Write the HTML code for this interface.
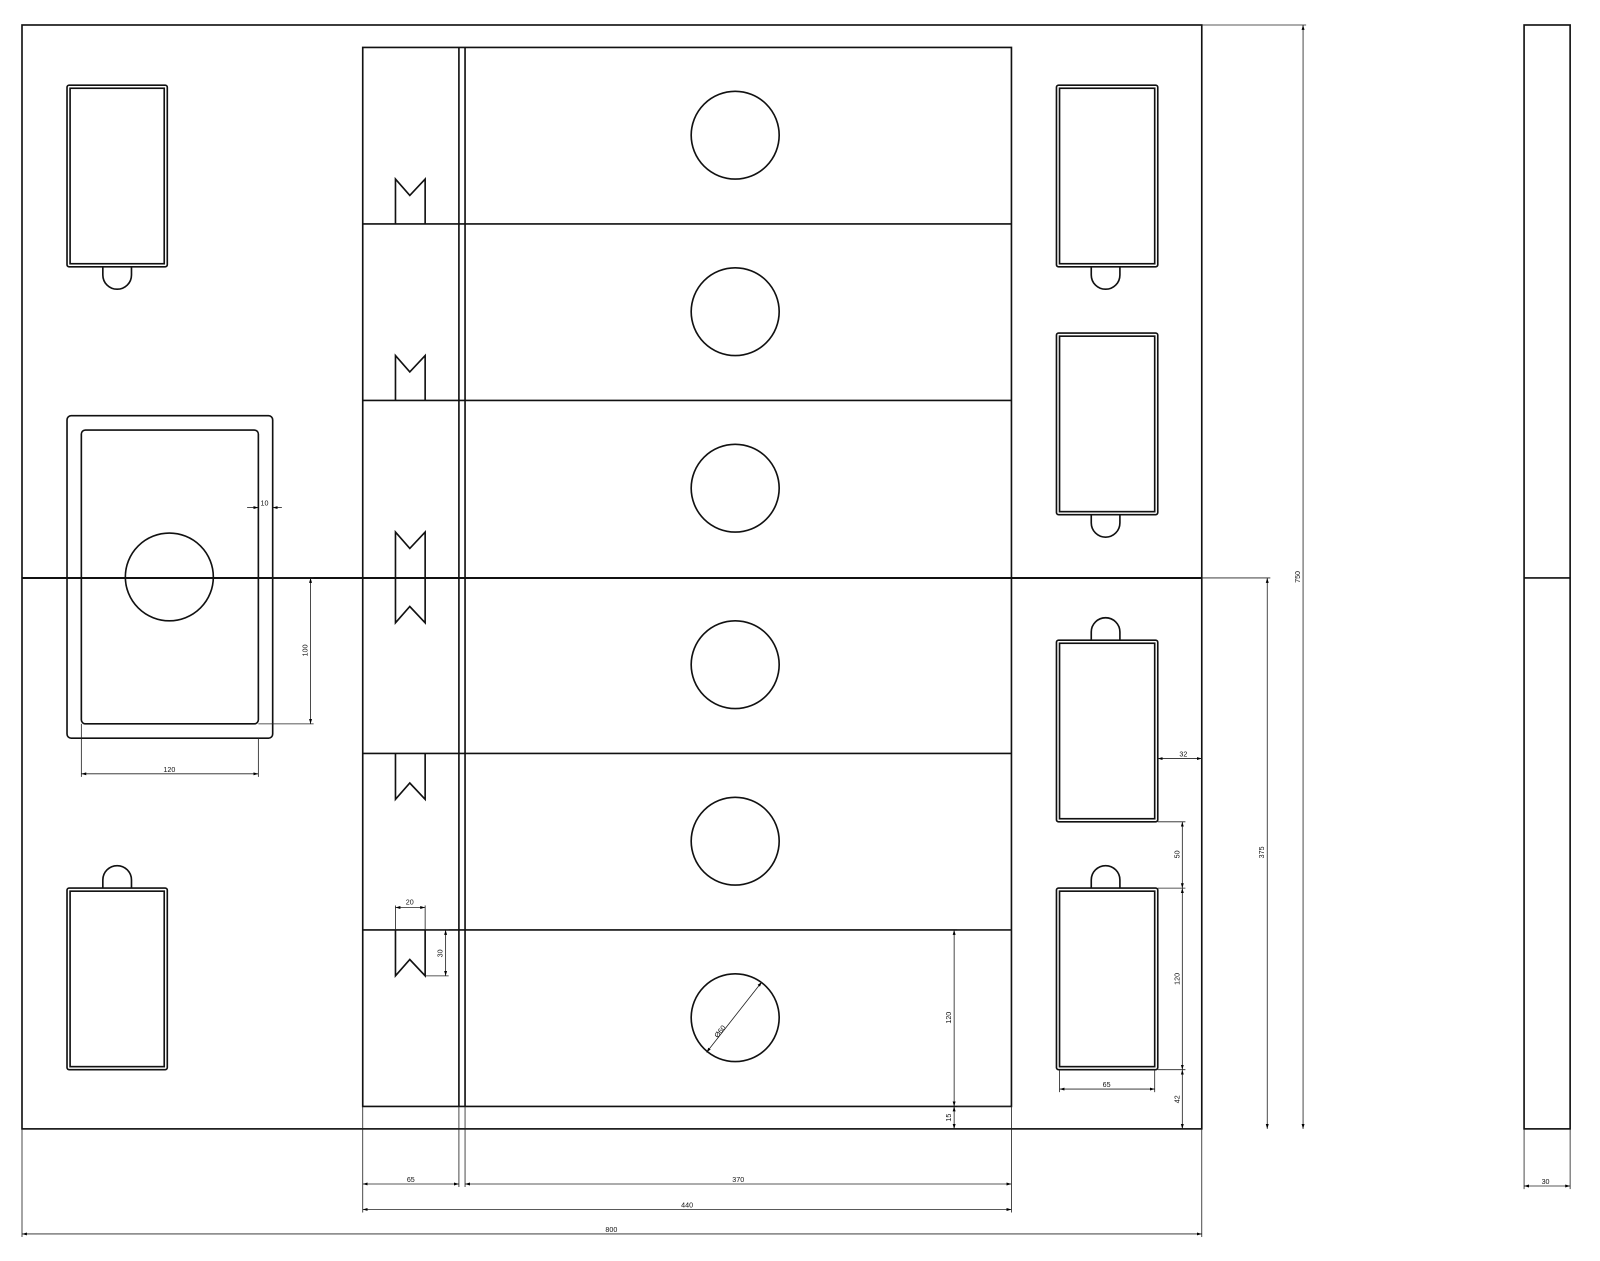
<!DOCTYPE html>
<html><head><meta charset="utf-8"><style>html,body{margin:0;padding:0;background:#fff;overflow:hidden}svg{display:block}</style></head><body>
<svg width="1600" height="1261" viewBox="1.5 0.5 1563.7 1236" preserveAspectRatio="none" xmlns="http://www.w3.org/2000/svg">
<defs>
<marker id="a" viewBox="0 0 10 10" refX="10" refY="5" markerWidth="6" markerHeight="6" orient="auto-start-reverse"><path d="M0,2 L10,5 L0,8 Z" fill="#000"/></marker>
</defs>
<g fill="none" stroke="#111" stroke-width="1.6">
<rect x="23" y="25" width="1153" height="1082"/>
<line x1="23" y1="567" x2="1176" y2="567" stroke-width="2"/>
<rect x="1491" y="25" width="45" height="1082"/>
<line x1="1491" y1="567" x2="1536" y2="567"/>
<rect x="356" y="47" width="634" height="1038"/>
<line x1="450" y1="47" x2="450" y2="1085"/>
<line x1="456" y1="47" x2="456" y2="1085"/>
<line x1="356" y1="220" x2="990" y2="220"/><line x1="356" y1="393" x2="990" y2="393"/>
<line x1="356" y1="739" x2="990" y2="739"/><line x1="356" y1="912" x2="990" y2="912"/>
<circle cx="720" cy="133" r="43"/><circle cx="720" cy="306" r="43"/><circle cx="720" cy="479" r="43"/>
<circle cx="720" cy="652" r="43"/><circle cx="720" cy="825" r="43"/><circle cx="720" cy="998" r="43"/>
<path d="M388,220 L388,176 L402,192 L417,176 L417,220"/>
<path d="M388,393 L388,349 L402,365 L417,349 L417,393"/>
<path d="M388,522 L402,538 L417,522 L417,611 L402,595 L388,611 Z"/>
<path d="M388,739 L388,784 L402,768 L417,784 L417,739"/>
<path d="M388,912 L388,957 L402,941 L417,957 L417,912"/>
<rect x="67" y="408" width="201" height="316" rx="4"/>
<rect x="81" y="422" width="173" height="288" rx="4"/>
<circle cx="167" cy="566" r="43"/>
<g>
<rect x="67" y="84" width="98" height="178" rx="2"/><rect x="70" y="87" width="92" height="172"/>
<path d="M102,262 L102,270 A14,14 0 0 0 130,270 L130,262"/>
<rect x="67" y="871" width="98" height="178" rx="2"/><rect x="70" y="874" width="92" height="172"/>
<path d="M102,871 L102,863 A14,14 0 0 1 130,863 L130,871"/>
<rect x="1034" y="84" width="99" height="178" rx="2"/><rect x="1037" y="87" width="93" height="172"/>
<path d="M1068,262 L1068,270 A14,14 0 0 0 1096,270 L1096,262"/>
<rect x="1034" y="327" width="99" height="178" rx="2"/><rect x="1037" y="330" width="93" height="172"/>
<path d="M1068,505 L1068,513 A14,14 0 0 0 1096,513 L1096,505"/>
<rect x="1034" y="628" width="99" height="178" rx="2"/><rect x="1037" y="631" width="93" height="172"/>
<path d="M1068,628 L1068,620 A14,14 0 0 1 1096,620 L1096,628"/>
<rect x="1034" y="871" width="99" height="178" rx="2"/><rect x="1037" y="874" width="93" height="172"/>
<path d="M1068,871 L1068,863 A14,14 0 0 1 1096,863 L1096,871"/>
</g>
</g>
<g fill="none" stroke="#222" stroke-width="0.8">
<line x1="254" y1="710" x2="308" y2="710"/><line x1="267" y1="567" x2="308" y2="567"/>
<line x1="81" y1="710" x2="81" y2="762"/><line x1="254" y1="724" x2="254" y2="762"/>
<line x1="1133" y1="806" x2="1160" y2="806"/><line x1="1133" y1="871" x2="1160" y2="871"/><line x1="1133" y1="1049" x2="1160" y2="1049"/>
<line x1="1176" y1="567" x2="1243" y2="567"/><line x1="1176" y1="25" x2="1278" y2="25"/>
<line x1="1037" y1="1049" x2="1037" y2="1071"/><line x1="1130" y1="1049" x2="1130" y2="1071"/>
<line x1="990" y1="912" x2="937" y2="912"/><line x1="990" y1="1085" x2="937" y2="1085"/>
<line x1="388" y1="912" x2="388" y2="888"/><line x1="417" y1="912" x2="417" y2="888"/>
<line x1="417" y1="957" x2="440" y2="957"/><line x1="417" y1="912" x2="440" y2="912"/>
<line x1="356" y1="1085" x2="356" y2="1189"/><line x1="450" y1="1085" x2="450" y2="1164"/><line x1="456" y1="1085" x2="456" y2="1164"/><line x1="990" y1="1085" x2="990" y2="1189"/>
<line x1="23" y1="1107" x2="23" y2="1213"/><line x1="1176" y1="1107" x2="1176" y2="1213"/>
<line x1="1491" y1="1107" x2="1491" y2="1166"/><line x1="1536" y1="1107" x2="1536" y2="1166"/>
<g marker-start="url(#a)" marker-end="url(#a)">
<line x1="243" y1="498" x2="254" y2="498" marker-start="none"/><line x1="277" y1="498" x2="268" y2="498" marker-start="none"/>
<line x1="305" y1="567" x2="305" y2="710"/>
<line x1="81" y1="759" x2="254" y2="759"/>
<line x1="1133" y1="744" x2="1176" y2="744"/>
<line x1="1157" y1="806" x2="1157" y2="871"/><line x1="1157" y1="871" x2="1157" y2="1049"/><line x1="1157" y1="1049" x2="1157" y2="1107"/>
<line x1="1240" y1="567" x2="1240" y2="1107"/><line x1="1275" y1="25" x2="1275" y2="1107"/>
<line x1="1037" y1="1068" x2="1130" y2="1068"/>
<line x1="934" y1="912" x2="934" y2="1085"/><line x1="934" y1="1085" x2="934" y2="1107"/>
<line x1="388" y1="890" x2="417" y2="890"/><line x1="437" y1="912" x2="437" y2="957"/>
<line x1="356" y1="1161" x2="450" y2="1161"/><line x1="456" y1="1161" x2="990" y2="1161"/>
<line x1="356" y1="1186" x2="990" y2="1186"/><line x1="23" y1="1210" x2="1176" y2="1210"/>
<line x1="1491" y1="1163" x2="1536" y2="1163"/>
<line x1="692" y1="1032" x2="746" y2="963"/>
</g>
</g>
<g font-family="Liberation Sans, sans-serif" font-size="7" fill="#111" text-anchor="middle">
<text x="260" y="496">10</text>
<text x="167" y="757">120</text>
<text x="1158" y="742">32</text>
<text x="1083" y="1066">65</text>
<text x="402" y="887">20</text>
<text x="403" y="1159">65</text>
<text x="723" y="1159">370</text>
<text x="673" y="1184">440</text>
<text x="599" y="1208">800</text>
<text x="1512" y="1161">30</text>
<text transform="translate(302,638) rotate(-90)">100</text>
<text transform="translate(1154,838) rotate(-90)">50</text>
<text transform="translate(1154,960) rotate(-90)">120</text>
<text transform="translate(1154,1078) rotate(-90)">42</text>
<text transform="translate(1237,836) rotate(-90)">375</text>
<text transform="translate(1272,566) rotate(-90)">750</text>
<text transform="translate(931,998) rotate(-90)">120</text>
<text transform="translate(931,1096) rotate(-90)">15</text>
<text transform="translate(434,935) rotate(-90)">30</text>
<text transform="translate(707,1013) rotate(-52)">Ø60</text>
</g>
</svg>
</body></html>
